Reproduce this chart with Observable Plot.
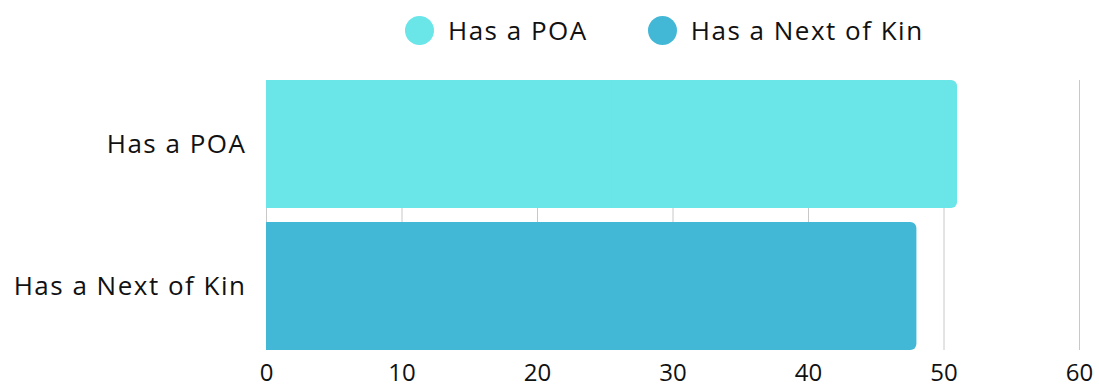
<!DOCTYPE html>
<html>
<head>
<meta charset="utf-8">
<script src="https://cdn.jsdelivr.net/npm/d3@7"></script>
<script src="https://cdn.jsdelivr.net/npm/@observablehq/plot@0.6"></script>
<style>
  body { margin: 0; background: #fff; font-family: "Open Sans", sans-serif; color: #111; }
  #legend { height: 60px; display: flex; align-items: center; padding-left: 405px; box-sizing: border-box; }
  .item { display: flex; align-items: center; margin-right: 60px; font-size: 26px; letter-spacing: 1.5px; }
  .dot { width: 29px; height: 29px; border-radius: 50%; margin-right: 14px; }
  g[aria-label="y-axis tick label"] { font-size: 26px; letter-spacing: 1.5px; }
  g[aria-label="x-axis tick label"] { font-size: 24px; }
</style>
</head>
<body>
<div id="legend"></div>
<div id="chart"></div>
<script>
// Respondent shares per category
const categories = ["Has a POA", "Has a Next of Kin"];
const values = [51, 48];
const colors = ["#6AE5E8", "#43B8D6"];
const xTicks = [0, 10, 20, 30, 40, 50, 60];

const data = categories.map((c, i) => ({category: c, value: values[i]}));

// Legend row
const legend = d3.select("#legend");
categories.forEach((c, i) => {
  const item = legend.append("div").attr("class", "item");
  item.append("div").attr("class", "dot").style("background", colors[i]);
  item.append("span").text(c);
});

const chart = Plot.plot({
  width: 1099,
  height: 328,
  marginLeft: 266,
  marginRight: 20,
  marginTop: 20,
  marginBottom: 38,
  style: {fontFamily: "'Open Sans', sans-serif", fontSize: "24px", color: "#111", background: "#fff"},
  x: {domain: [0, 60], ticks: xTicks, tickSize: 0, tickPadding: 13, label: null},
  y: {domain: categories, paddingInner: 0.1, paddingOuter: 0, tickSize: 0, tickPadding: 20, label: null},
  color: {domain: categories, range: colors},
  marks: [
    Plot.gridX(xTicks, {stroke: "#c8c8c8", strokeOpacity: 1}),
    // rounded bars, with the left half squared off by a plain overlay
    Plot.barX(data, {y: "category", x: "value", fill: "category", rx: 6}),
    Plot.barX(data, {y: "category", x: d => d.value / 2, fill: "category"})
  ]
});
document.getElementById("chart").appendChild(chart);
</script>
</body>
</html>
